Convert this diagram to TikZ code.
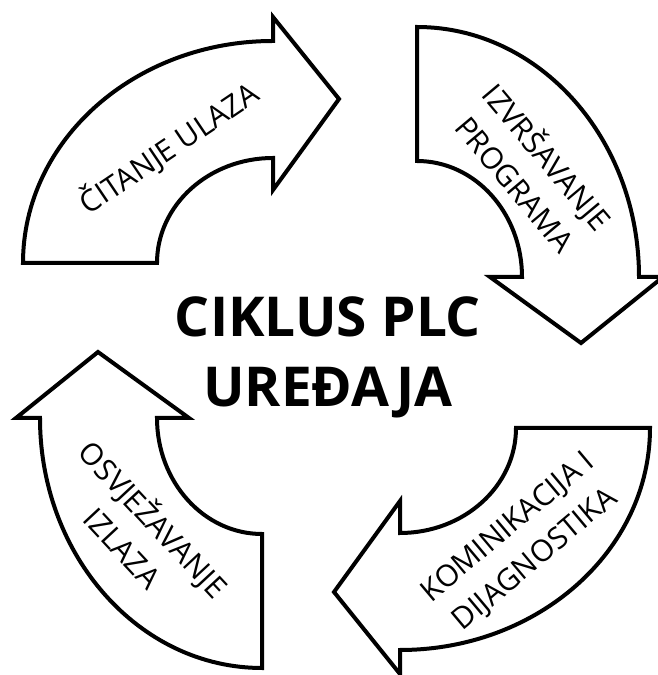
\documentclass[tikz,border=0pt]{standalone}
\usepackage{fontspec}
\setmainfont{Open Sans}
\begin{document}
\begin{tikzpicture}[x=1pt,y=1pt,
  cyclearrow/.style={draw=black,line width=4pt,fill=white,line join=miter},
  steplabel/.style={align=center,font=\fontsize{30}{42}\selectfont},
  titlelabel/.style={align=center,font=\fontsize{55}{70}\selectfont\bfseries}]

\useasboundingbox (0,0) rectangle (657,675);

% one curved block arrow per step, same outline turned by 90 degrees each time
\foreach \cx/\cy/\rot in {273/412/0, 417/398/-90, 400/247/180, 262/257/90}
  \draw [cyclearrow,shift={(\cx,\cy)},rotate=\rot]
    (-250,0) arc [start angle=180,end angle=90,x radius=250,y radius=222]
    -- (0,246) -- (66,164) -- (0,73) -- (0,105)
    arc [start angle=90,end angle=180,x radius=116,y radius=105] -- cycle;

\node [titlelabel] (title) at (328,318) {CIKLUS PLC\\UREĐAJA};

% step names along the arrows
\node [steplabel,rotate=34]  (read)  at (169,527) {ČITANJE ULAZA};
\node [steplabel,rotate=-50] (exec)  at (533,506) {IZVRŠAVANJE\\PROGRAMA};
\node [steplabel,rotate=40]  (comm)  at (522,131) {KOMINIKACIJA I\\DIJAGNOSTIKA};
\node [steplabel,rotate=-47] (write) at (140,143) {OSVJEŽAVANJE\\IZLAZA};

\end{tikzpicture}
\end{document}
